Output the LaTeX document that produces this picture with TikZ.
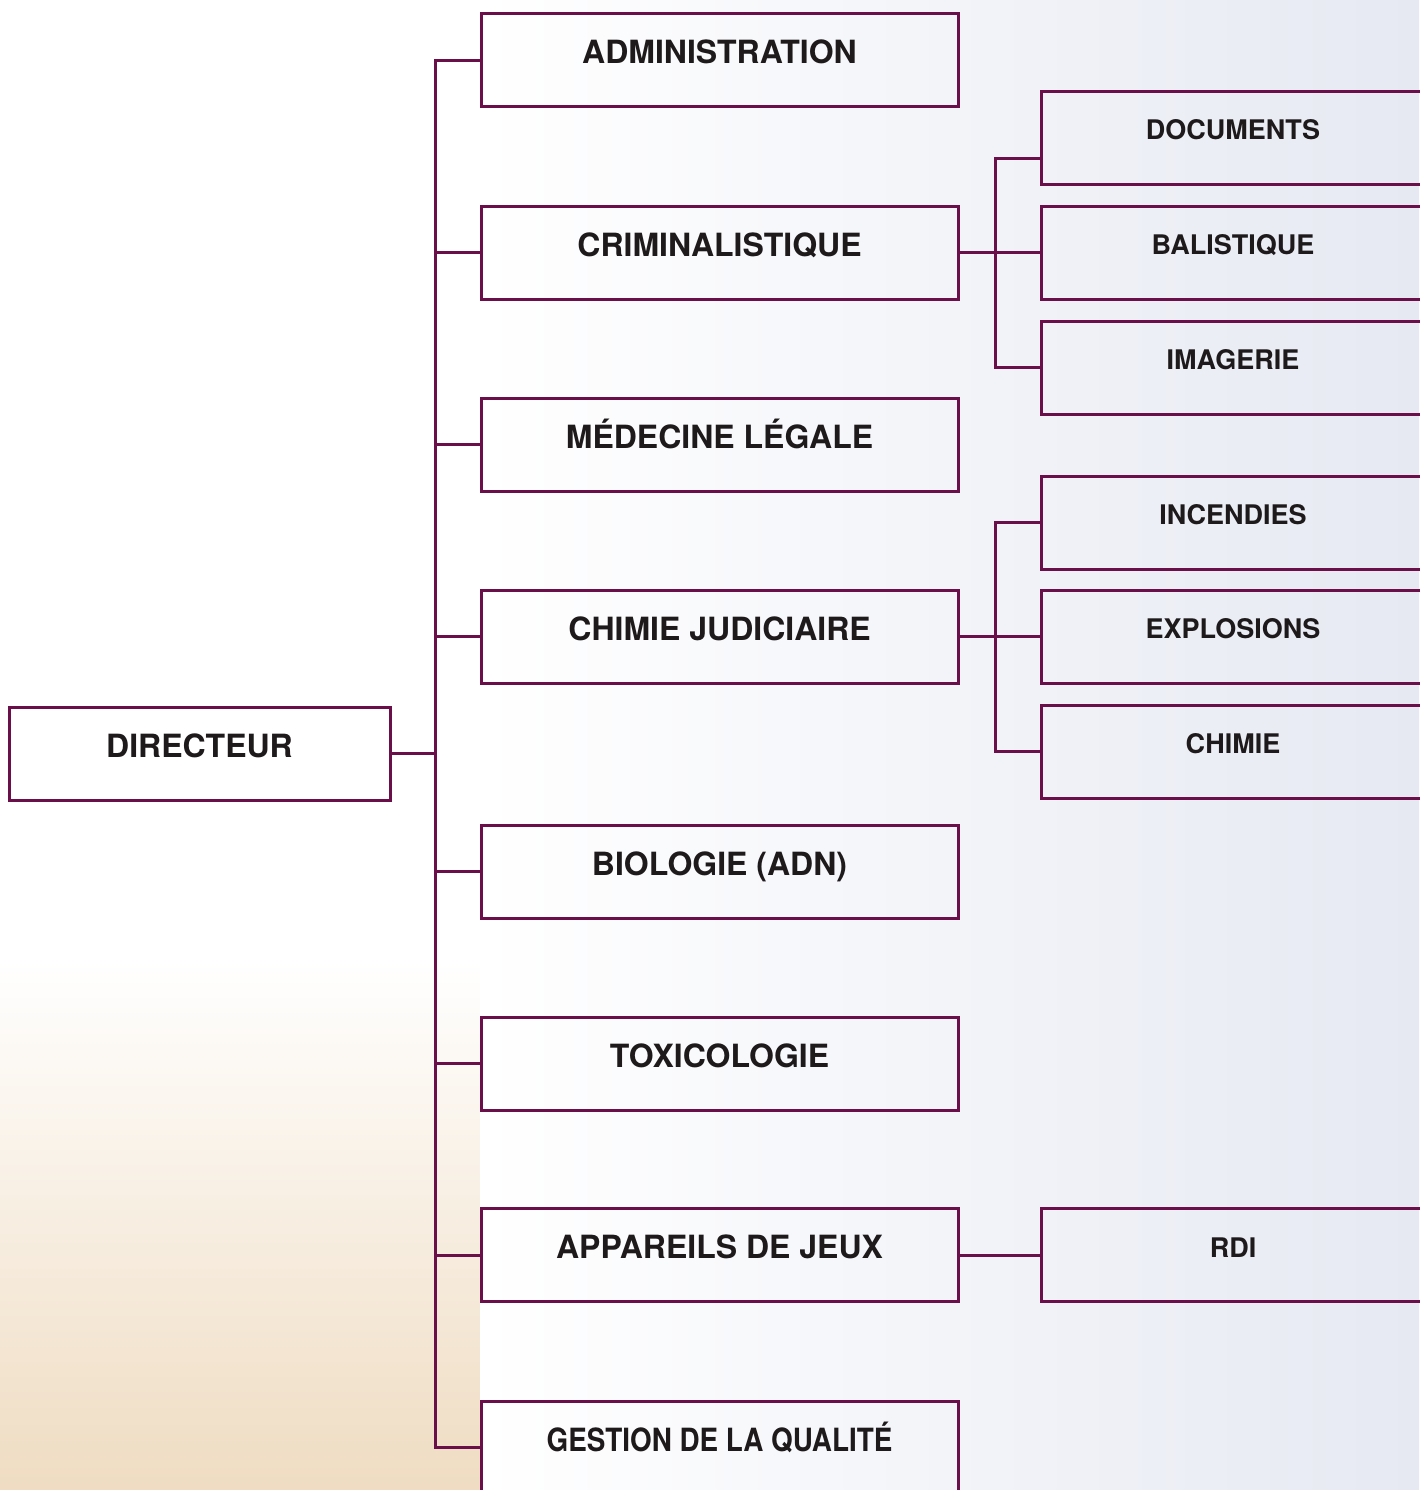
\documentclass[tikz,border=0pt]{standalone}
\usepackage{fontspec}
\setmainfont{TeX Gyre Heros}
\definecolor{plum}{HTML}{6B0F4A}
\definecolor{ink}{HTML}{1E1A1B}
\definecolor{sand}{HTML}{EFDCC2}
\definecolor{mist}{HTML}{E6E9F2}
\tikzset{
  unit/.style={draw=plum, line width=3pt, minimum width=477pt, minimum height=93pt,
    text height=24pt, text depth=17pt, inner sep=0pt, text=ink,
    font=\fontsize{32}{38}\selectfont\bfseries},
  subunit/.style={unit, minimum width=384pt, text height=20pt, text depth=16pt,
    font=\fontsize{27}{32}\selectfont\bfseries},
  link/.style={draw=plum, line width=3pt}
}
\begin{document}
\begin{tikzpicture}[x=1pt, y=-1pt]
        \useasboundingbox (0, 0) rectangle (1419, 1490);
        % background
        \fill[white] (0, 0) rectangle (1419, 1490);
        \shade[top color=white, bottom color=sand] (0, 960) rectangle (480, 1490);
        \shade[left color=white, right color=mist] (480, 0) rectangle (1419, 1490);
        % nodes
        \node[unit, minimum width=381pt] (dir) at (199.5, 753.5) {DIRECTEUR};
        \node[unit] (adm) at (719.5, 60.5) {ADMINISTRATION};
        \node[unit] (crim) at (719.5, 252.5) {CRIMINALISTIQUE};
        \node[unit] (med) at (719.5, 444.5) {MÉDECINE LÉGALE};
        \node[unit] (chim) at (719.5, 636.5) {CHIMIE JUDICIAIRE};
        \node[unit] (bio) at (719.5, 871.5) {BIOLOGIE (ADN)};
        \node[unit] (tox) at (719.5, 1063.5) {TOXICOLOGIE};
        \node[unit] (app) at (719.5, 1255) {APPAREILS DE JEUX};
        \node[unit] (qual) at (719.5, 1447.5) {\scalebox{0.87}[1]{GESTION DE LA QUALITÉ}};
        \node[subunit] (doc) at (1233, 138) {DOCUMENTS};
        \node[subunit] (bal) at (1233, 252.5) {BALISTIQUE};
        \node[subunit] (img) at (1233, 367.5) {IMAGERIE};
        \node[subunit] (inc) at (1233, 522.5) {INCENDIES};
        \node[subunit] (exp) at (1233, 636.5) {EXPLOSIONS};
        \node[subunit] (chi) at (1233, 751.5) {CHIMIE};
        \node[subunit] (rdi) at (1233, 1255) {RDI};
        % lines
        \coordinate (hub) at (435, 753.5);
        \coordinate (crimhub) at (995, 252.5);
        \coordinate (chimhub) at (995, 636.5);
        \draw[link] (dir.east) -- (hub);
        \foreach \n in {adm, crim, med, chim, bio, tox, app, qual}
          \draw[link] (hub) |- (\n.west);
        \draw[link] (crim.east) -- (bal.west);
        \draw[link] (crimhub) |- ([yshift=-21pt]doc.west);
        \draw[link] (crimhub) |- (img.west);
        \draw[link] (chim.east) -- (exp.west);
        \draw[link] (chimhub) |- (inc.west);
        \draw[link] (chimhub) |- (chi.west);
        \draw[link] (app.east) -- (rdi.west);
      \end{tikzpicture}
\end{document}
